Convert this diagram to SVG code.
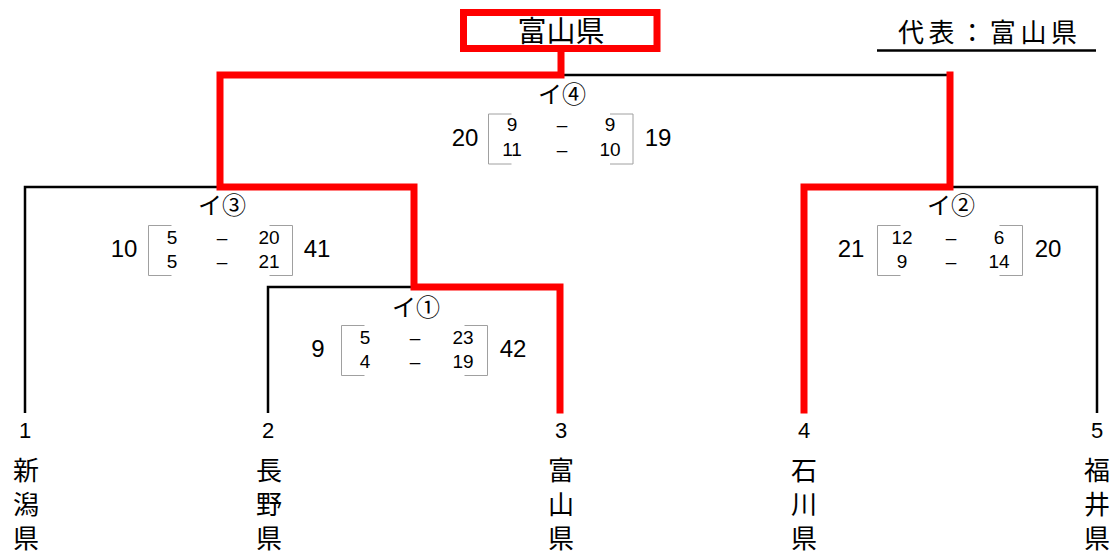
<svg xmlns="http://www.w3.org/2000/svg" width="1113" height="553" viewBox="0 0 1113 553">
<style>
.blk{stroke:#000;stroke-width:2.5;fill:none}
.red{stroke:#ff0000;stroke-width:7;fill:none;stroke-linecap:square}
.br{stroke:#a0a0a0;stroke-width:1;fill:none}
.cjk{font-family:"Noto Sans CJK JP",sans-serif;fill:#000}
.num{font-family:"Liberation Sans",Arial,sans-serif;fill:#000;text-anchor:middle}
.o{font-size:24px}
.i{font-size:19px}
.lbl{font-size:24px;text-anchor:middle}
.pref{font-size:26px;text-anchor:middle}
</style>
<rect width="1113" height="553" fill="#fff"/>
<g id="connectors">
  <polyline class="blk" points="25,413 25,187 218,187"/>
  <polyline class="blk" points="268,413 268,287 414,287"/>
  <line class="blk" x1="561" y1="75" x2="950" y2="75"/>
  <polyline class="blk" points="950,187 1097,187 1097,413"/>
  <polyline class="red" points="561,52 561,75 220,75 220,187 414,187 414,287 560,287 560,410"/>
  <polyline class="red" points="950,75 950,187 804,187 804,410"/>
</g>
<g id="winner">
  <rect x="463.5" y="12.5" width="193.5" height="36" fill="none" stroke="#ff0000" stroke-width="7"/>
  <text class="cjk" x="561" y="42" font-size="29" text-anchor="middle">富山県</text>
</g>
<g id="representative">
  <text class="cjk" x="898" y="42" font-size="26" textLength="179" lengthAdjust="spacing">代表：富山県</text>
  <line x1="877" y1="50.5" x2="1096" y2="50.5" stroke="#000" stroke-width="2.5"/>
</g>
<g id="match4">
  <text class="cjk lbl" x="562" y="103">イ④</text>
  <path class="br" d="M511.5,114H488.5V164H511.5M610,114H633V164H610"/>
  <text class="num o" x="465" y="146">20</text>
  <text class="num o" x="658" y="146">19</text>
  <text class="num i" x="512" y="131">9</text>
  <text class="num i" x="562" y="131">–</text>
  <text class="num i" x="610" y="131">9</text>
  <text class="num i" x="512" y="156">11</text>
  <text class="num i" x="562" y="156">–</text>
  <text class="num i" x="610" y="156">10</text>
</g>
<g id="match3">
  <text class="cjk lbl" x="222" y="214">イ③</text>
  <path class="br" d="M171.5,225.5H148.5V275.5H171.5M269.5,225.5H292.5V275.5H269.5"/>
  <text class="num o" x="124" y="257">10</text>
  <text class="num o" x="317" y="257">41</text>
  <text class="num i" x="172" y="244">5</text>
  <text class="num i" x="222" y="244">–</text>
  <text class="num i" x="269" y="244">20</text>
  <text class="num i" x="172" y="268">5</text>
  <text class="num i" x="222" y="268">–</text>
  <text class="num i" x="269" y="268">21</text>
</g>
<g id="match1">
  <text class="cjk lbl" x="416" y="316">イ①</text>
  <path class="br" d="M364.5,325.5H341.5V375.5H364.5M464.5,325.5H487.5V375.5H464.5"/>
  <text class="num o" x="318" y="357">9</text>
  <text class="num o" x="513" y="357">42</text>
  <text class="num i" x="365" y="344">5</text>
  <text class="num i" x="415" y="344">–</text>
  <text class="num i" x="463" y="344">23</text>
  <text class="num i" x="365" y="368">4</text>
  <text class="num i" x="415" y="368">–</text>
  <text class="num i" x="463" y="368">19</text>
</g>
<g id="match2">
  <text class="cjk lbl" x="951" y="214">イ②</text>
  <path class="br" d="M900.5,225.5H877.5V275.5H900.5M999.5,225.5H1022.5V275.5H999.5"/>
  <text class="num o" x="851" y="257">21</text>
  <text class="num o" x="1048" y="257">20</text>
  <text class="num i" x="902" y="244">12</text>
  <text class="num i" x="951" y="244">–</text>
  <text class="num i" x="999" y="244">6</text>
  <text class="num i" x="902" y="268">9</text>
  <text class="num i" x="951" y="268">–</text>
  <text class="num i" x="999" y="268">14</text>
</g>
<g id="team1">
  <text class="num" x="25" y="438" font-size="22">1</text>
  <text class="cjk pref" x="26" y="480">新</text>
  <text class="cjk pref" x="26" y="514">潟</text>
  <text class="cjk pref" x="26" y="548">県</text>
</g>
<g id="team2">
  <text class="num" x="268" y="438" font-size="22">2</text>
  <text class="cjk pref" x="269" y="480">長</text>
  <text class="cjk pref" x="269" y="514">野</text>
  <text class="cjk pref" x="269" y="548">県</text>
</g>
<g id="team3">
  <text class="num" x="561" y="438" font-size="22">3</text>
  <text class="cjk pref" x="561" y="480">富</text>
  <text class="cjk pref" x="561" y="514">山</text>
  <text class="cjk pref" x="561" y="548">県</text>
</g>
<g id="team4">
  <text class="num" x="804" y="438" font-size="22">4</text>
  <text class="cjk pref" x="804" y="480">石</text>
  <text class="cjk pref" x="804" y="514">川</text>
  <text class="cjk pref" x="804" y="548">県</text>
</g>
<g id="team5">
  <text class="num" x="1097" y="438" font-size="22">5</text>
  <text class="cjk pref" x="1097" y="480">福</text>
  <text class="cjk pref" x="1097" y="514">井</text>
  <text class="cjk pref" x="1097" y="548">県</text>
</g>
</svg>
